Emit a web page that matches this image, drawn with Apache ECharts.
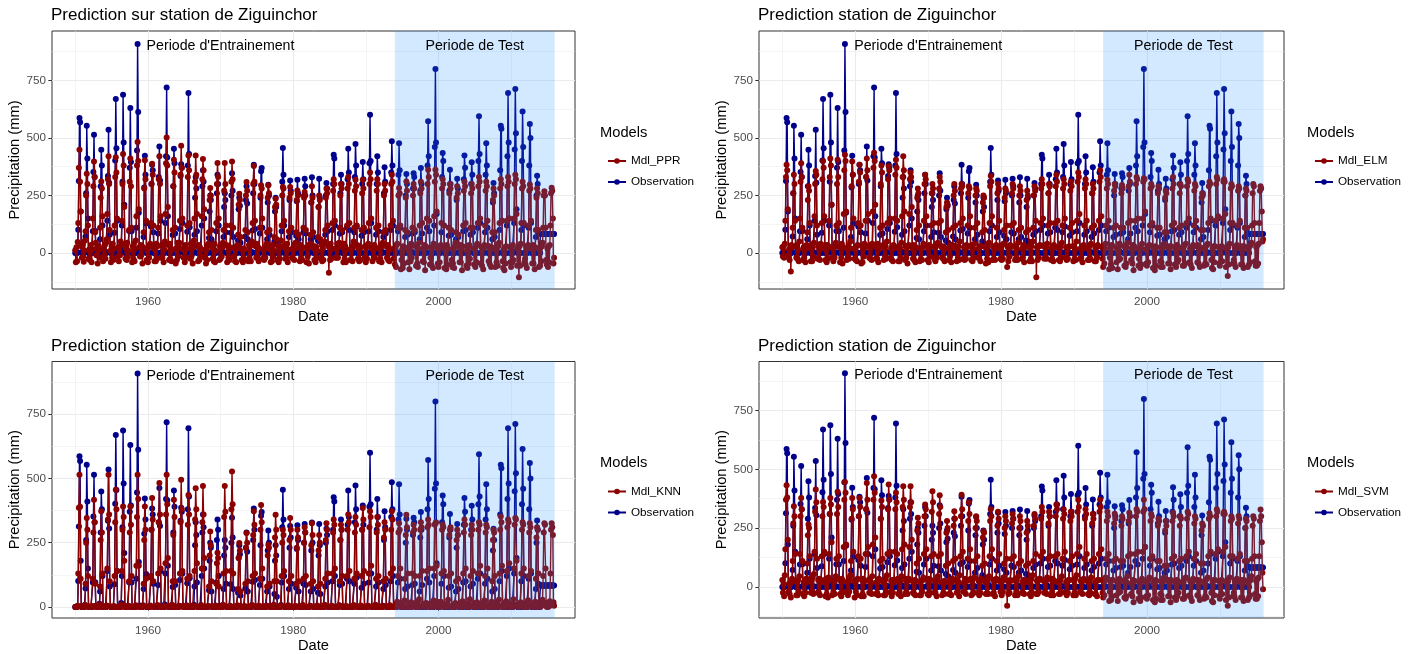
<!DOCTYPE html>
<html>
<head>
<meta charset="utf-8">
<script src="https://cdn.jsdelivr.net/npm/echarts@6/dist/echarts.min.js"></script>
<style>
  html, body { margin: 0; padding: 0; background: #ffffff; }
  #chart { width: 1411px; height: 654px; }
</style>
</head>
<body>
<div id="chart"></div>
<script>
// Monthly rainfall at Ziguinchor, January 1950 to December 2015.
// Every row below is one year, January to December (mm).
const startYear = 1950;
const endYear = 2015;

const observation = [
  0,0,0,0,2,101,313,586,568,180,3,0,
  0,0,0,1,8,72,260,553,410,150,0,0,
  0,0,0,0,0,95,352,514,330,96,5,0,
  0,0,0,0,12,60,290,449,380,120,0,0,
  0,0,0,0,3,140,335,535,305,80,2,0,
  0,0,0,0,0,88,402,669,455,140,0,0,
  0,0,0,0,15,120,310,687,480,210,1,0,
  0,0,0,0,4,96,370,630,395,95,0,0,
  0,0,0,0,0,110,445,908,612,175,6,0,
  0,0,0,0,7,70,285,422,340,128,0,0,
  0,0,0,0,2,115,300,383,360,90,0,0,
  0,0,0,0,0,85,330,463,315,140,3,0,
  0,0,0,0,10,130,420,719,415,160,0,0,
  0,0,0,0,0,78,290,453,390,85,0,0,
  0,0,0,0,5,105,335,386,370,130,2,0,
  0,0,0,0,0,92,380,695,430,112,0,0,
  0,0,0,0,9,80,240,330,280,95,0,0,
  0,0,0,0,0,120,290,360,310,150,0,0,
  0,0,0,0,3,65,180,250,230,60,0,0,
  0,0,0,0,0,95,260,340,300,120,4,0,
  0,0,0,0,6,70,200,260,230,90,0,0,
  0,0,0,0,0,88,250,347,270,70,0,0,
  0,0,0,0,2,55,190,240,205,45,0,0,
  0,0,0,0,0,72,230,290,215,60,0,0,
  0,0,0,0,5,98,260,383,300,105,0,0,
  0,0,0,0,0,85,240,355,369,110,2,0,
  0,0,0,0,4,60,220,297,250,80,0,0,
  0,0,0,0,0,50,180,240,200,40,0,0,
  0,0,0,0,8,95,310,456,340,120,0,0,
  0,0,0,0,0,70,230,315,270,90,0,0,
  0,0,0,0,2,75,225,318,260,60,0,0,
  0,0,0,0,0,90,250,323,290,85,0,0,
  0,0,0,0,5,60,220,329,250,70,0,0,
  0,0,0,0,0,55,200,323,240,50,0,0,
  0,0,0,0,3,80,250,304,280,95,0,0,
  0,0,0,0,0,100,300,427,410,120,0,0,
  0,0,0,0,6,85,260,340,300,90,0,0,
  0,0,0,0,0,110,320,453,350,100,0,0,
  0,0,0,0,4,90,330,473,380,115,0,0,
  0,0,0,0,0,75,300,395,320,90,0,0,
  0,0,0,0,2,95,390,600,400,130,0,0,
  0,0,0,0,0,80,300,420,350,95,0,0,
  0,0,0,0,5,70,260,372,310,85,0,0,
  0,0,0,0,0,100,350,485,380,120,0,0,
  0,0,0,0,3,95,340,477,360,110,0,0,
  0,0,0,0,0,70,250,343,300,80,0,0,
  0,0,0,0,6,85,280,347,330,90,0,0,
  0,0,0,0,0,60,270,369,300,85,0,0,
  0,0,0,0,2,110,380,572,420,95,0,0,
  0,0,0,0,0,120,460,799,480,170,3,0,
  0,0,0,0,5,90,330,434,400,120,0,0,
  0,0,0,0,0,75,270,362,300,80,0,0,
  0,0,0,0,4,60,230,323,280,70,0,0,
  0,0,0,0,0,95,320,424,370,100,0,0,
  0,0,0,0,3,80,300,394,340,90,0,0,
  0,0,0,0,0,110,400,594,430,130,0,0,
  0,0,0,0,5,90,340,477,380,110,0,0,
  0,0,0,0,0,60,220,304,260,70,0,0,
  0,0,0,0,4,100,360,553,540,140,0,0,
  0,0,0,0,0,120,420,695,480,150,0,0,
  0,0,0,0,6,130,450,712,520,190,2,0,
  0,0,0,0,0,100,400,615,460,120,0,0,
  0,0,0,0,3,110,380,560,500,130,0,0,
  0,0,0,0,0,70,250,336,300,90,0,0,
  0,83,83,83,83,83,83,83,83,83,83,83,
  83,83,83,83,83,83,83,83,83,83,83,83
];

const mdlPPR = [
  12,-40,25,-35,48,130,370,449,310,180,30,-20,
  40,-15,-38,10,55,95,250,344,300,120,-25,15,
  -30,20,35,-40,15,150,290,398,330,90,45,-10,
  25,-45,10,30,-20,110,240,311,280,160,-35,20,
  -10,35,-25,45,60,170,320,420,300,100,10,-40,
  30,-20,40,-30,20,120,330,416,350,150,-15,25,
  -35,15,-10,50,35,140,300,430,380,200,40,-25,
  20,-30,45,-15,10,100,310,410,290,110,-40,30,
  -25,40,-35,20,55,160,380,482,400,190,25,-15,
  35,-10,30,-45,25,90,280,403,320,140,-30,10,
  -40,25,-20,35,40,130,300,388,340,120,20,-35,
  15,-35,40,-25,30,110,320,420,300,160,-20,35,
  -20,30,-40,15,50,170,390,502,380,200,35,-30,
  40,-25,20,-35,15,100,290,405,350,110,-45,20,
  -30,45,-15,30,45,140,340,466,370,150,15,-20,
  25,-40,35,-20,20,120,330,423,360,130,-25,40,
  -15,20,-45,40,55,150,310,423,340,170,30,-35,
  35,-30,25,-10,15,160,320,408,360,190,-20,15,
  -45,15,-30,35,40,90,230,282,250,100,25,-25,
  20,-35,40,-40,10,130,300,391,330,150,-30,30,
  -25,35,-15,25,45,100,270,391,300,120,35,-40,
  30,-20,30,-30,20,120,310,398,320,110,-15,25,
  -35,25,-40,20,35,80,210,258,230,70,20,-30,
  15,-40,20,-25,15,100,250,308,270,90,-35,35,
  -20,30,-35,40,50,130,300,378,310,140,30,-20,
  40,-15,25,-35,20,110,250,294,280,150,-25,15,
  -30,20,-20,30,40,90,240,294,260,100,15,-40,
  25,-35,35,-15,10,70,200,236,210,60,-30,30,
  -40,30,-25,25,55,120,250,287,280,140,35,-25,
  20,-25,40,-40,15,95,240,287,260,110,-20,20,
  -25,35,-30,20,45,90,230,272,250,80,25,-35,
  35,-20,15,-30,25,110,240,265,250,100,-40,25,
  -15,25,-45,35,40,80,220,290,240,90,20,-30,
  30,-40,25,-20,10,70,200,250,230,60,-25,35,
  -35,20,-30,40,50,100,240,280,260,120,30,-85,
  25,-30,40,-25,20,130,270,320,300,140,-20,20,
  -20,40,-20,30,45,110,250,300,280,100,25,-40,
  40,-25,30,-40,15,120,280,330,300,130,-30,15,
  -30,30,-35,25,50,110,270,318,290,120,35,-25,
  20,-35,20,-30,25,100,260,318,280,110,-20,30,
  -40,25,-25,35,40,130,300,350,320,150,20,-35,
  30,-20,35,-20,20,110,270,320,300,120,-35,25,
  -25,35,-40,30,45,90,250,300,270,100,30,-20,
  35,-30,25,-35,15,120,300,340,310,140,-25,20,
  -50,20,-60,35,40,110,250,282,260,120,-70,-30,
  15,-65,30,-45,25,100,240,311,270,90,-40,10,
  -70,25,-35,40,-20,110,250,300,280,100,30,-55,
  30,-45,-60,20,45,120,260,310,280,130,-35,20,
  -40,35,-75,30,25,150,300,362,330,140,-50,-20,
  20,-55,25,-65,40,160,310,362,340,180,20,-45,
  -60,30,-40,25,35,130,280,320,300,120,-65,15,
  25,-70,35,-50,20,110,260,300,280,100,-30,-60,
  -45,15,-65,30,45,90,240,290,260,80,25,-40,
  35,-40,20,-75,30,120,270,310,290,130,-55,10,
  -65,30,-45,35,-25,110,260,300,280,110,20,-50,
  20,-60,30,-40,40,130,290,330,310,150,-45,25,
  -55,25,-70,20,35,120,270,310,290,140,30,-35,
  30,-50,15,-60,25,90,230,280,250,90,-60,15,
  -40,35,-55,30,45,130,280,320,300,140,-35,-65,
  15,-75,25,-45,30,140,290,330,310,150,25,-40,
  -60,20,-40,35,-30,150,300,340,320,170,-55,20,
  25,-105,30,-55,40,130,280,310,290,130,-40,-25,
  -50,30,-65,20,35,120,270,298,280,140,20,-45,
  35,-45,20,-70,25,100,240,280,260,100,-60,15,
  -55,25,-35,30,45,110,250,268,250,110,-30,-50,
  20,-60,30,-40,35,120,260,283,270,150,-45,-20
];

const mdlELM = [
  25,-15,30,-20,40,140,330,383,360,190,-10,15,
  -30,20,-80,35,25,110,260,340,300,140,30,-20,
  35,-25,15,-35,50,150,310,390,330,110,-30,25,
  -20,30,-40,20,35,90,230,290,270,130,20,-35,
  30,-35,25,-15,45,160,300,356,340,120,-25,30,
  -25,15,-30,40,20,130,320,400,370,160,35,-30,
  15,-40,35,-25,30,140,330,410,380,210,-20,20,
  -35,25,-20,30,45,120,300,405,330,130,25,-40,
  30,-20,40,-45,25,170,360,427,400,180,-30,15,
  -15,35,-25,20,50,110,290,398,340,150,20,-25,
  20,-30,30,-35,35,130,310,383,350,120,-45,30,
  -40,15,-15,40,25,140,330,410,360,170,30,-20,
  35,-25,25,-30,40,180,370,436,400,210,-25,25,
  -25,40,-40,15,30,110,300,380,350,120,35,-30,
  25,-15,30,-25,50,130,320,378,360,150,-20,20,
  -30,30,-35,35,20,150,340,405,370,140,25,-35,
  30,-35,20,-20,45,160,330,420,360,180,-30,30,
  -20,25,-45,30,35,170,320,350,330,200,20,-25,
  35,-30,25,-40,25,100,240,280,260,120,-35,20,
  -25,20,-30,25,40,140,300,340,320,160,30,-30,
  20,-40,35,-15,30,120,260,300,280,130,-25,25,
  -35,30,-20,40,45,130,280,330,310,140,25,-20,
  30,-25,15,-35,20,90,200,220,210,100,-30,30,
  -15,35,-40,25,35,110,250,300,270,120,20,-35,
  25,-20,30,-30,50,130,280,300,290,150,-25,25,
  -30,25,-25,35,25,120,260,290,280,160,30,-30,
  35,-35,20,-20,40,110,250,280,270,130,-20,20,
  -20,30,-35,30,30,90,220,250,240,100,25,-45,
  30,-25,25,-40,45,130,290,335,310,160,-30,30,
  -25,20,-30,20,35,110,260,300,280,140,20,-25,
  20,-30,35,-25,40,100,240,280,270,120,-60,25,
  -35,25,-15,35,25,120,260,300,280,130,30,-30,
  30,-20,20,-30,45,100,250,290,270,110,-25,20,
  -20,35,-40,25,30,90,230,270,250,100,25,-35,
  25,-25,30,-35,50,110,250,290,270,140,-105,25,
  -30,30,-20,30,35,130,280,320,300,150,30,-25,
  35,-20,25,-25,40,120,260,300,290,130,-30,20,
  -25,25,-35,35,25,130,290,340,310,140,25,-30,
  20,-35,30,-20,45,120,280,320,300,150,-20,25,
  -30,20,-25,25,30,110,270,310,290,130,30,-35,
  30,-25,20,-30,50,140,310,350,330,170,-25,20,
  -20,30,-40,20,35,120,280,320,300,140,20,-30,
  25,-30,35,-25,40,110,260,300,280,120,-35,25,
  -35,25,-20,35,30,140,310,360,330,160,25,-25,
  -60,30,-45,20,40,120,280,318,300,140,-70,-20,
  25,-50,35,-65,30,110,270,300,290,120,-40,15,
  -70,20,-30,40,-25,110,260,295,280,110,30,-55,
  30,-60,-45,25,45,130,290,340,310,140,-30,20,
  -45,35,-75,30,20,140,300,330,320,150,-55,-25,
  20,-65,25,-50,40,150,310,325,320,180,15,-45,
  -55,30,-40,30,35,120,280,300,290,130,-65,20,
  25,-75,30,-55,25,110,260,290,280,110,-35,-60,
  -40,20,-60,35,40,90,240,270,260,90,25,-45,
  30,-45,25,-70,30,120,280,330,300,130,-50,15,
  -60,35,-40,30,-30,110,260,300,290,120,20,-55,
  25,-55,35,-45,40,130,290,320,310,150,-40,20,
  -50,20,-65,25,35,120,270,300,290,140,30,-40,
  35,-45,20,-60,25,100,240,260,250,100,-55,15,
  -45,30,-50,35,40,130,290,310,300,150,-30,-65,
  20,-70,30,-40,30,140,300,330,320,160,25,-45,
  -55,25,-35,30,-35,150,310,320,310,170,-60,20,
  30,-100,25,-50,40,130,280,300,290,130,-45,-30,
  -45,25,-60,25,35,120,270,290,280,140,20,-50,
  30,-50,20,-65,30,110,250,280,270,110,-60,15,
  -50,30,-40,35,45,120,260,300,290,130,-35,-55,
  25,-55,35,-45,40,130,270,290,280,180,50,60
];

const mdlKNN = [
  0,0,2,0,5,130,386,514,390,110,3,0,
  1,0,0,0,8,90,250,346,300,120,0,2,
  0,2,0,0,4,110,290,417,330,90,5,0,
  0,0,1,0,10,80,260,372,290,130,0,0,
  3,0,0,1,6,150,340,514,360,100,2,0,
  0,0,0,0,4,120,330,456,380,140,0,1,
  0,1,0,0,9,140,300,391,350,180,4,0,
  2,0,0,0,5,100,290,391,320,120,0,0,
  0,0,1,0,7,160,350,514,420,160,3,0,
  0,0,0,2,4,90,260,391,300,110,0,1,
  1,0,0,0,6,120,300,424,340,100,2,0,
  0,0,2,0,8,130,330,482,360,150,0,0,
  0,1,0,0,5,170,360,514,400,190,4,0,
  2,0,0,0,9,100,280,417,350,100,0,1,
  0,0,0,1,4,130,330,495,380,140,3,0,
  0,2,0,0,7,110,320,436,360,120,0,0,
  1,0,0,0,5,140,340,462,380,170,2,0,
  0,0,1,0,8,150,330,471,360,190,0,2,
  0,0,0,2,4,80,200,294,240,100,3,0,
  2,0,0,0,6,90,170,211,190,80,0,0,
  0,1,0,0,9,130,350,471,370,140,2,0,
  0,0,0,1,5,140,380,527,400,130,0,1,
  1,0,2,0,7,70,190,249,220,60,3,0,
  0,0,0,0,4,90,230,288,250,100,0,0,
  0,2,0,0,8,120,280,372,320,130,2,1,
  2,0,0,1,5,110,300,397,330,150,0,0,
  0,0,1,0,6,80,200,242,230,90,3,0,
  0,1,0,0,9,100,270,359,300,100,0,2,
  1,0,0,2,5,120,250,300,280,140,2,0,
  0,0,0,0,7,100,260,346,300,120,0,0,
  0,2,0,0,4,90,230,300,270,100,3,1,
  2,0,1,0,8,110,250,310,290,120,0,0,
  0,0,0,1,5,90,240,326,280,100,2,0,
  0,1,0,0,6,80,220,280,250,90,0,2,
  1,0,2,0,9,110,260,326,300,130,3,0,
  0,0,0,0,5,130,290,340,320,150,0,0,
  0,2,0,1,7,100,260,320,300,120,2,1,
  2,0,0,0,4,120,300,360,330,140,0,0,
  0,0,1,0,8,110,290,350,320,130,3,0,
  0,1,0,0,6,120,300,385,340,140,0,2,
  1,0,0,2,5,130,310,372,350,160,2,0,
  0,0,2,0,9,110,290,350,320,120,0,0,
  0,2,0,0,4,100,270,330,300,110,3,1,
  2,0,0,1,7,130,300,372,340,150,0,0,
  5,0,12,3,20,120,290,326,300,150,8,2,
  0,15,4,0,25,110,280,359,310,130,0,10,
  12,2,0,18,10,130,290,320,300,120,15,0,
  0,8,20,0,30,120,300,330,310,140,5,12,
  3,0,10,5,15,140,310,340,320,150,0,8,
  10,12,0,2,25,150,320,326,330,160,20,0,
  0,5,15,0,20,130,300,320,310,140,3,10,
  8,0,3,12,28,120,280,300,310,130,0,5,
  0,10,0,4,15,100,260,300,280,110,12,0,
  15,2,8,0,22,130,290,340,320,150,4,8,
  0,12,0,10,30,120,280,320,300,140,0,15,
  5,0,14,2,18,130,300,330,320,160,10,0,
  10,4,0,16,25,120,290,320,310,150,2,6,
  0,8,6,0,20,100,260,300,290,120,14,0,
  12,0,10,4,28,130,300,352,330,160,0,10,
  2,15,0,8,22,140,310,340,330,170,6,0,
  0,5,12,0,30,150,320,346,340,180,10,4,
  8,0,3,14,18,130,300,330,320,150,0,12,
  0,10,0,5,26,120,290,326,310,140,8,0,
  14,2,9,0,20,110,270,310,300,130,3,6,
  0,12,4,10,28,120,290,326,320,150,15,0,
  6,0,14,3,22,130,300,326,310,280,18,5
];

const mdlSVM = [
  30,-25,10,-40,50,160,370,432,380,200,-20,15,
  -30,15,-45,25,35,110,270,343,300,140,25,-35,
  20,-35,30,-20,45,140,300,378,330,110,-30,20,
  -40,25,-25,35,20,100,220,265,250,130,35,-25,
  25,-20,40,-30,55,150,320,414,360,120,-25,30,
  -25,35,-35,20,30,130,300,361,340,150,20,-40,
  35,-30,20,-45,40,140,310,378,350,190,-35,25,
  -20,20,-30,30,45,120,310,404,340,130,30,-30,
  30,-40,35,-25,25,170,370,446,400,180,-20,20,
  -35,25,-20,40,50,110,290,378,330,150,25,-45,
  20,-20,30,-35,35,130,300,378,340,120,-40,30,
  -30,35,-40,25,25,140,330,442,370,170,30,-25,
  35,-25,20,-30,45,180,370,470,400,210,-30,20,
  -25,20,-35,35,30,110,290,367,340,120,20,-35,
  25,-35,35,-20,50,140,330,435,370,150,-25,25,
  -40,30,-25,30,20,150,330,400,360,140,35,-30,
  30,-20,25,-40,45,160,340,428,370,180,-30,30,
  -20,35,-30,25,35,170,340,428,360,200,25,-25,
  25,-30,30,-35,25,100,240,294,270,120,-35,20,
  -35,25,-20,30,40,140,300,350,330,160,30,-30,
  30,-35,35,-25,30,130,320,407,360,140,-25,25,
  -25,20,-40,35,45,130,310,390,340,140,20,-35,
  20,-25,25,-30,20,90,230,280,250,100,-30,30,
  -30,30,-35,20,35,110,260,322,290,120,25,-25,
  30,-20,20,-40,50,130,300,392,330,150,-20,20,
  -20,35,-30,30,25,120,280,360,310,160,35,-35,
  25,-30,35,-25,40,110,250,300,280,130,-25,25,
  -35,20,-25,35,30,90,210,237,230,100,20,-30,
  30,-25,30,-30,45,130,280,330,300,160,-30,30,
  -25,30,-40,25,35,110,260,320,290,140,25,-20,
  20,-35,25,-20,40,100,250,300,280,120,-80,25,
  -30,25,-25,30,25,120,270,310,290,130,30,-35,
  35,-20,30,-35,45,100,250,300,280,110,-25,20,
  -25,30,-30,20,30,90,230,280,260,100,20,-30,
  25,-40,35,-25,50,110,260,310,290,140,-30,25,
  -30,25,-20,35,35,130,290,340,320,150,25,-25,
  30,-25,25,-30,40,120,270,320,300,130,-35,30,
  -20,35,-35,25,25,130,300,350,330,140,20,-30,
  25,-30,30,-20,45,120,290,330,310,150,-25,20,
  -35,20,-25,30,30,110,280,320,300,130,30,-35,
  30,-25,35,-35,50,140,320,370,340,170,-20,25,
  -25,30,-30,25,35,120,290,330,310,140,25,-30,
  20,-35,25,-25,40,110,270,310,290,120,-30,20,
  -30,25,-40,30,30,140,320,371,340,160,30,-25,
  -45,30,-35,25,40,120,280,320,300,140,-60,-20,
  25,-55,30,-40,30,110,270,311,290,120,-35,20,
  -60,20,-25,35,-20,110,260,300,290,110,25,-45,
  30,-50,-40,20,45,130,280,315,300,140,-30,15,
  -40,30,-65,25,25,140,300,330,320,150,-50,-20,
  20,-60,25,-45,35,150,320,371,330,170,20,-40,
  -50,25,-35,30,40,120,280,310,300,130,-55,15,
  25,-65,30,-50,25,110,260,290,280,110,-30,-55,
  -35,20,-55,35,40,90,240,280,260,90,25,-40,
  30,-40,20,-65,30,120,280,315,300,130,-45,20,
  -55,30,-40,25,-25,110,260,300,290,120,20,-50,
  20,-50,35,-40,40,130,290,320,310,150,-35,25,
  -45,25,-60,20,35,120,270,300,290,140,30,-35,
  30,-40,25,-55,25,100,240,270,260,100,-50,15,
  -40,30,-45,35,40,130,290,313,300,150,-25,-60,
  20,-65,30,-35,30,140,300,330,320,160,25,-40,
  -50,25,-30,30,-30,150,310,320,310,170,-55,20,
  30,-80,25,-45,40,130,280,300,290,130,-40,-25,
  -40,25,-55,25,35,120,270,301,290,140,20,-45,
  30,-45,20,-60,30,110,250,290,280,110,-55,15,
  -45,30,-35,30,45,120,260,300,290,130,-30,-50,
  25,-50,35,-40,40,130,280,329,300,190,60,-10
];

// Axis ticks and grid positions (years and mm)
const xMajorTicks = [1960, 1980, 2000];
const xMinorTicks = [1950, 1970, 1990, 2010];
const yMajorTicks = [0, 250, 500, 750];
const yMinorTicks = [-125, 125, 375, 625, 875];

// Training / test split and the two captions
const testStart = 1994;
const testEnd = 2016;
const trainText = "Periode d'Entrainement";
const testText = "Periode de Test";
const trainTextPos = [1970, 900];
const testTextPos = [2005, 900];

const FONT = "'Liberation Sans', Arial, Helvetica, sans-serif";
const OBS_COLOR = '#00008B';
const MDL_COLOR = '#8B0000';
const X_MIN = 1946.8, X_MAX = 2018.8;

// month positions in decimal years
const dates = [];
for (let y = startYear; y <= endYear; y++) {
  for (let m = 0; m < 12; m++) dates.push(y + m / 12);
}
const pairs = vals => vals.map((v, i) => [dates[i], v]);
const plain = v => String(Math.round(v));

const panels = [
  { title: 'Prediction sur station de Ziguinchor', model: 'Mdl_PPR', values: mdlPPR,
    left: 52, top: 31, width: 523, height: 258, yMin: -156, yMax: 964 },
  { title: 'Prediction station de Ziguinchor', model: 'Mdl_ELM', values: mdlELM,
    left: 759, top: 31, width: 525, height: 258, yMin: -156, yMax: 964 },
  { title: 'Prediction station de Ziguinchor', model: 'Mdl_KNN', values: mdlKNN,
    left: 52, top: 361.5, width: 523, height: 257, yMin: -43, yMax: 955 },
  { title: 'Prediction station de Ziguinchor', model: 'Mdl_SVM', values: mdlSVM,
    left: 759, top: 361.5, width: 525, height: 257, yMin: -132, yMax: 958 }
];

const option = {
  animation: false,
  backgroundColor: '#ffffff',
  textStyle: { fontFamily: FONT },
  title: [], grid: [], xAxis: [], yAxis: [], legend: [], series: []
};

panels.forEach((p, i) => {
  option.grid.push({
    left: p.left, top: p.top, width: p.width, height: p.height,
    show: true, borderColor: '#333333', borderWidth: 1, backgroundColor: 'transparent'
  });

  option.title.push({
    text: p.title, left: p.left - 1, top: p.top - 24, padding: 0,
    textStyle: { fontSize: 17, fontWeight: 'normal', color: '#000000', fontFamily: FONT }
  });
  option.title.push({
    text: 'Models', left: p.left + 548, top: p.top + 94, padding: 0,
    textStyle: { fontSize: 14.7, fontWeight: 'normal', color: '#000000', fontFamily: FONT }
  });

  const xMain = option.xAxis.length;
  option.xAxis.push({
    type: 'value', gridIndex: i, min: X_MIN, max: X_MAX,
    name: 'Date', nameLocation: 'middle', nameGap: 20,
    nameTextStyle: { fontSize: 14.7, color: '#000000', fontFamily: FONT },
    axisLine: { show: false },
    axisTick: { show: true, customValues: xMajorTicks, length: 3.7, lineStyle: { color: '#333333', width: 1 } },
    axisLabel: { show: true, customValues: xMajorTicks, formatter: plain, fontSize: 11.7, color: '#4D4D4D', margin: 7, fontFamily: FONT },
    splitLine: { show: true, lineStyle: { color: '#EBEBEB', width: 1.1 } }
  });
  option.xAxis.push({
    type: 'value', gridIndex: i, min: X_MIN, max: X_MAX,
    axisLine: { show: false },
    axisTick: { show: false, customValues: xMinorTicks },
    axisLabel: { show: false, customValues: xMinorTicks },
    splitLine: { show: true, lineStyle: { color: '#EBEBEB', width: 0.55 } }
  });

  const yMain = option.yAxis.length;
  const yMinorIn = yMinorTicks.filter(v => v > p.yMin && v < p.yMax);
  option.yAxis.push({
    type: 'value', gridIndex: i, min: p.yMin, max: p.yMax, position: 'left',
    name: 'Precipitation (mm)', nameLocation: 'middle', nameGap: 27, nameRotate: 90,
    nameTextStyle: { fontSize: 14.7, color: '#000000', fontFamily: FONT },
    axisLine: { show: false },
    axisTick: { show: true, customValues: yMajorTicks, length: 3.7, lineStyle: { color: '#333333', width: 1 } },
    axisLabel: { show: true, customValues: yMajorTicks, formatter: plain, fontSize: 11.7, color: '#4D4D4D', margin: 6, fontFamily: FONT },
    splitLine: { show: true, lineStyle: { color: '#EBEBEB', width: 1.1 } }
  });
  option.yAxis.push({
    type: 'value', gridIndex: i, min: p.yMin, max: p.yMax, position: 'left',
    axisLine: { show: false },
    axisTick: { show: false, customValues: yMinorIn },
    axisLabel: { show: false, customValues: yMinorIn },
    splitLine: { show: true, lineStyle: { color: '#EBEBEB', width: 0.55 } }
  });

  const lineSeries = (name, vals, color, z) => ({
    name, type: 'line', xAxisIndex: xMain, yAxisIndex: yMain, z,
    data: pairs(vals), color,
    symbol: 'circle', symbolSize: 6, showSymbol: true, showAllSymbol: true,
    lineStyle: { color, width: 1.4 }, itemStyle: { color },
    emphasis: { disabled: true }, silent: true
  });
  option.series.push(lineSeries('Observation', observation, OBS_COLOR, 2));
  option.series.push(lineSeries(p.model, p.values, MDL_COLOR, 3));

  // translucent test-period band drawn over the lines, plus the two captions
  option.series.push({
    type: 'line', xAxisIndex: xMain, yAxisIndex: yMain, data: [], z: 10, silent: true,
    markArea: {
      silent: true, z: 10,
      itemStyle: { color: 'rgba(30,144,255,0.2)' },
      data: [[{ xAxis: testStart }, { xAxis: testEnd }]]
    },
    markPoint: {
      silent: true, z: 11, symbol: 'rect', symbolSize: 1,
      itemStyle: { color: 'rgba(0,0,0,0)' },
      label: { show: true, position: 'inside', color: '#000000', fontSize: 14.2, fontFamily: FONT },
      data: [
        { coord: trainTextPos, label: { formatter: trainText } },
        { coord: testTextPos, label: { formatter: testText } }
      ]
    }
  });

  option.legend.push({
    data: [p.model, 'Observation'], orient: 'vertical',
    left: p.left + 550, top: p.top + 119,
    itemWidth: 18, itemHeight: 7, itemGap: 9, selectedMode: false,
    textStyle: { fontSize: 11.7, color: '#000000', fontFamily: FONT }
  });
});

const chart = echarts.init(document.getElementById('chart'), null, { renderer: 'canvas' });
chart.setOption(option);
</script>
</body>
</html>
